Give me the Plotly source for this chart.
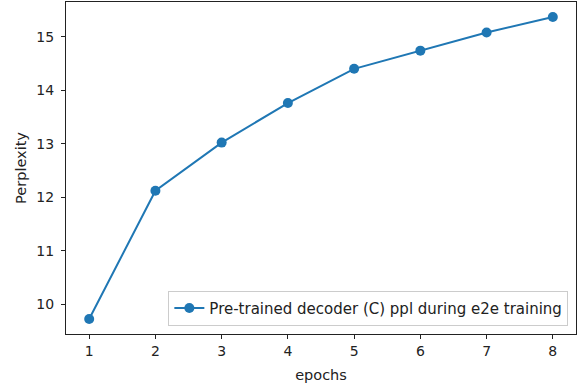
import plotly.graph_objects as go

epochs = [1, 2, 3, 4, 5, 6, 7, 8]
perplexity = [9.72, 12.12, 13.02, 13.76, 14.40, 14.74, 15.08, 15.37]
series_name = "Pre-trained decoder (C) ppl during e2e training"
x_ticks = [1, 2, 3, 4, 5, 6, 7, 8]
y_ticks = [10, 11, 12, 13, 14, 15]

blue = "#1f77b4"
font = "DejaVu Sans"

fig = go.Figure()
fig.add_trace(go.Scatter(
    x=epochs, y=perplexity, mode="lines+markers", name=series_name,
    line=dict(color=blue, width=2),
    marker=dict(color=blue, size=10),
))

axis_common = dict(
    showline=True, linecolor="#222", linewidth=1, mirror=True,
    ticks="outside", ticklen=4, tickcolor="#222", showgrid=False, zeroline=False,
    tickfont=dict(family=font, size=14, color="#222"), automargin=False,
)

fig.update_layout(
    width=577, height=385,
    margin=dict(l=66, r=1, t=2, b=51),
    paper_bgcolor="white", plot_bgcolor="white",
    font=dict(family=font, size=14, color="#222"),
    showlegend=True,
    legend=dict(
        x=0.985, y=0.025, xanchor="right", yanchor="bottom",
        bgcolor="rgba(255,255,255,0.8)", bordercolor="#ccc", borderwidth=1,
        font=dict(family=font, size=15, color="#222"),
    ),
    xaxis=dict(range=[0.65, 8.35], tickvals=x_ticks,
               title=dict(text="epochs", font=dict(family=font, size=14.5), standoff=12),
               **axis_common),
    yaxis=dict(range=[9.44, 15.65], tickvals=y_ticks, ticklabelstandoff=4,
               title=dict(text="Perplexity", font=dict(family=font, size=14.5), standoff=6),
               **axis_common),
)

fig.write_html("out.html", config={"displayModeBar": False},
               post_script="document.body.style.margin='0';")
